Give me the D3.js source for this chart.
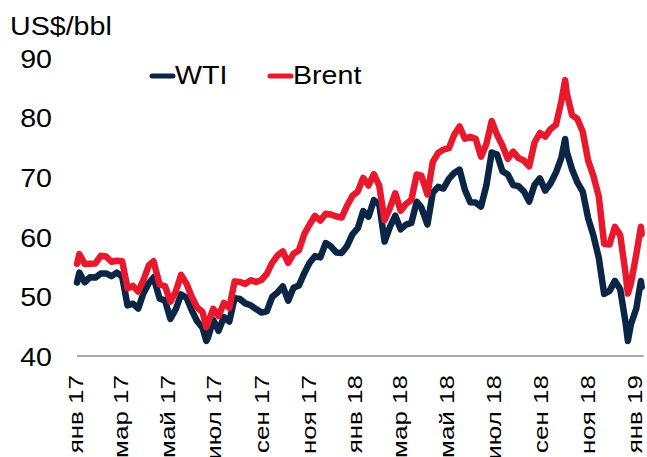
<!DOCTYPE html>
<html><head><meta charset="utf-8">
<script src="https://cdn.jsdelivr.net/npm/d3@7"></script>
<style>
html,body{margin:0;padding:0;background:#fff;}
text{font-family:"Liberation Sans",Arial,sans-serif;fill:#000;}
</style></head>
<body>
<svg id="chart" width="647" height="457"></svg>
<script>
const dates = ["2017-01-03","2017-01-06","2017-01-13","2017-01-20","2017-01-27","2017-02-03","2017-02-10","2017-02-17","2017-02-24","2017-03-03","2017-03-10","2017-03-17","2017-03-24","2017-03-31","2017-04-07","2017-04-13","2017-04-21","2017-04-28","2017-05-05","2017-05-12","2017-05-19","2017-05-26","2017-06-02","2017-06-09","2017-06-16","2017-06-21","2017-06-23","2017-06-30","2017-07-07","2017-07-14","2017-07-21","2017-07-28","2017-08-04","2017-08-11","2017-08-18","2017-08-25","2017-09-01","2017-09-08","2017-09-15","2017-09-22","2017-09-29","2017-10-06","2017-10-13","2017-10-20","2017-10-27","2017-11-03","2017-11-10","2017-11-17","2017-11-24","2017-12-01","2017-12-08","2017-12-15","2017-12-22","2017-12-29","2018-01-05","2018-01-12","2018-01-19","2018-01-26","2018-02-02","2018-02-09","2018-02-16","2018-02-23","2018-03-02","2018-03-09","2018-03-16","2018-03-23","2018-03-29","2018-04-06","2018-04-13","2018-04-20","2018-04-27","2018-05-04","2018-05-11","2018-05-18","2018-05-25","2018-06-01","2018-06-08","2018-06-15","2018-06-22","2018-06-29","2018-07-06","2018-07-13","2018-07-20","2018-07-27","2018-08-03","2018-08-10","2018-08-17","2018-08-24","2018-08-31","2018-09-07","2018-09-14","2018-09-21","2018-09-28","2018-10-03","2018-10-05","2018-10-12","2018-10-19","2018-10-26","2018-11-02","2018-11-09","2018-11-16","2018-11-23","2018-11-30","2018-12-07","2018-12-14","2018-12-21","2018-12-24","2018-12-28","2019-01-04","2019-01-10","2019-01-11"];
const wti = [52.33,53.99,52.37,53.22,53.17,53.83,53.86,53.40,53.99,53.33,48.49,48.78,47.97,50.60,52.24,53.18,49.62,49.33,46.22,47.84,50.33,49.80,47.66,45.83,44.74,42.53,43.01,46.04,44.23,46.54,45.77,49.71,49.58,48.82,48.51,47.87,47.29,47.48,49.89,50.66,51.67,49.29,51.45,51.84,53.90,55.64,56.74,56.55,58.95,58.36,57.36,57.30,58.47,60.42,61.44,64.30,63.37,66.14,65.45,59.20,61.68,63.55,61.25,62.04,62.34,65.88,64.94,62.06,67.39,68.38,68.10,69.72,70.70,71.28,67.88,65.81,65.74,65.06,68.58,74.15,73.80,71.01,70.46,68.69,68.49,67.63,65.91,68.72,69.80,67.75,68.99,70.78,73.25,76.41,74.34,71.34,69.12,67.59,63.14,60.19,56.46,50.42,50.93,52.61,51.20,45.59,42.53,45.33,47.96,52.59,51.59];
const brent = [55.47,57.10,55.45,55.49,55.52,56.81,56.70,55.81,55.99,55.90,51.37,51.76,50.80,52.83,55.24,55.89,51.96,51.73,49.10,50.84,53.61,52.15,49.95,48.15,47.37,44.82,45.54,47.92,46.71,48.91,48.06,52.52,52.42,52.10,52.72,52.41,52.75,53.78,55.62,56.86,57.54,55.62,57.17,57.75,60.44,62.07,63.52,62.72,63.86,63.73,63.40,63.23,65.25,66.87,67.62,69.87,68.61,70.52,68.58,62.79,64.84,67.31,64.37,65.49,66.21,70.45,70.27,67.11,72.58,74.06,74.64,74.87,77.12,78.51,76.44,76.79,76.46,73.44,75.55,79.44,77.11,75.33,73.07,74.29,73.21,72.81,71.83,75.82,77.42,76.83,78.09,78.80,82.72,86.29,84.16,80.43,79.78,77.62,72.83,70.18,66.76,58.80,58.71,61.67,60.28,53.82,50.47,52.20,57.06,61.68,60.48];
const tickDates = ["2017-01-01","2017-03-01","2017-05-01","2017-07-01","2017-09-01","2017-11-01","2018-01-01","2018-03-01","2018-05-01","2018-07-01","2018-09-01","2018-11-01","2019-01-01"];
const tickLabels = ["янв 17","мар 17","май 17","июл 17","сен 17","ноя 17","янв 18","мар 18","май 18","июл 18","сен 18","ноя 18","янв 19"];
const yTicks = [40,50,60,70,80,90];
const seriesNames = ["WTI","Brent"];
const seriesColors = ["#0b2545","#e8192c"];
const unitLabel = "US$/bbl";

const parse = d3.timeParse("%Y-%m-%d");
const svg = d3.select("#chart");
const x = d3.scaleTime().domain([parse("2017-01-01"), parse("2019-01-01")]).range([75.5, 634]);
const y = d3.scaleLinear().domain([40, 90]).range([356, 58]);

const pts = dates.map((d,i)=>({date:parse(d), wti:wti[i], brent:brent[i]}));

// x axis
const xAxis = svg.append("g").attr("transform","translate(0,356)")
  .call(d3.axisBottom(x).tickValues(tickDates.map(parse)).tickFormat((d,i)=>tickLabels[i]).tickSize(0));
xAxis.select(".domain").remove();
xAxis.append("line").attr("x1", x(pts[0].date)).attr("x2", x(pts[pts.length-1].date)+2)
  .attr("y1",0).attr("y2",0).attr("stroke","#8c8c8c").attr("stroke-width",1.5);
xAxis.selectAll(".tick text")
  .attr("x",-14.6).attr("y",0).attr("dy","0.35em")
  .attr("text-anchor","end")
  .attr("transform","rotate(-90) scale(1.3,1)")
  .style("font-size","20px").style("font-family","'Liberation Sans',Arial,sans-serif").attr("fill","#000");

// y axis
const yAxis = svg.append("g").attr("transform","translate(52,0)")
  .call(d3.axisLeft(y).tickValues(yTicks).tickSize(0).tickPadding(0));
yAxis.select(".domain").remove();
yAxis.selectAll(".tick text")
  .attr("x",0).attr("dy","0.36em")
  .attr("transform","scale(1.1,1)")
  .style("font-size","26px").style("font-family","'Liberation Sans',Arial,sans-serif").attr("fill","#000");

// lines
const keys = ["wti","brent"];
keys.forEach((k,i)=>{
  svg.append("path").datum(pts)
    .attr("fill","none").attr("stroke",seriesColors[i]).attr("stroke-width",6.5)
    .attr("stroke-linejoin","round").attr("stroke-linecap","round")
    .attr("d", d3.line().x(d=>x(d.date)).y(d=>y(d[k])));
});

// unit label
svg.append("text").attr("transform","translate(10,35) scale(1.1,1)")
  .style("font-size","26px").text(unitLabel);

// legend
const legX = [152, 270];
seriesNames.forEach((n,i)=>{
  svg.append("line").attr("x1",legX[i]).attr("x2",legX[i]+21).attr("y1",76).attr("y2",76)
    .attr("stroke",seriesColors[i]).attr("stroke-width",5).attr("stroke-linecap","round");
  svg.append("text").attr("transform",`translate(${legX[i]+23},84) scale(1.1,1)`)
    .style("font-size","26px").text(n);
});
</script>
</body></html>
